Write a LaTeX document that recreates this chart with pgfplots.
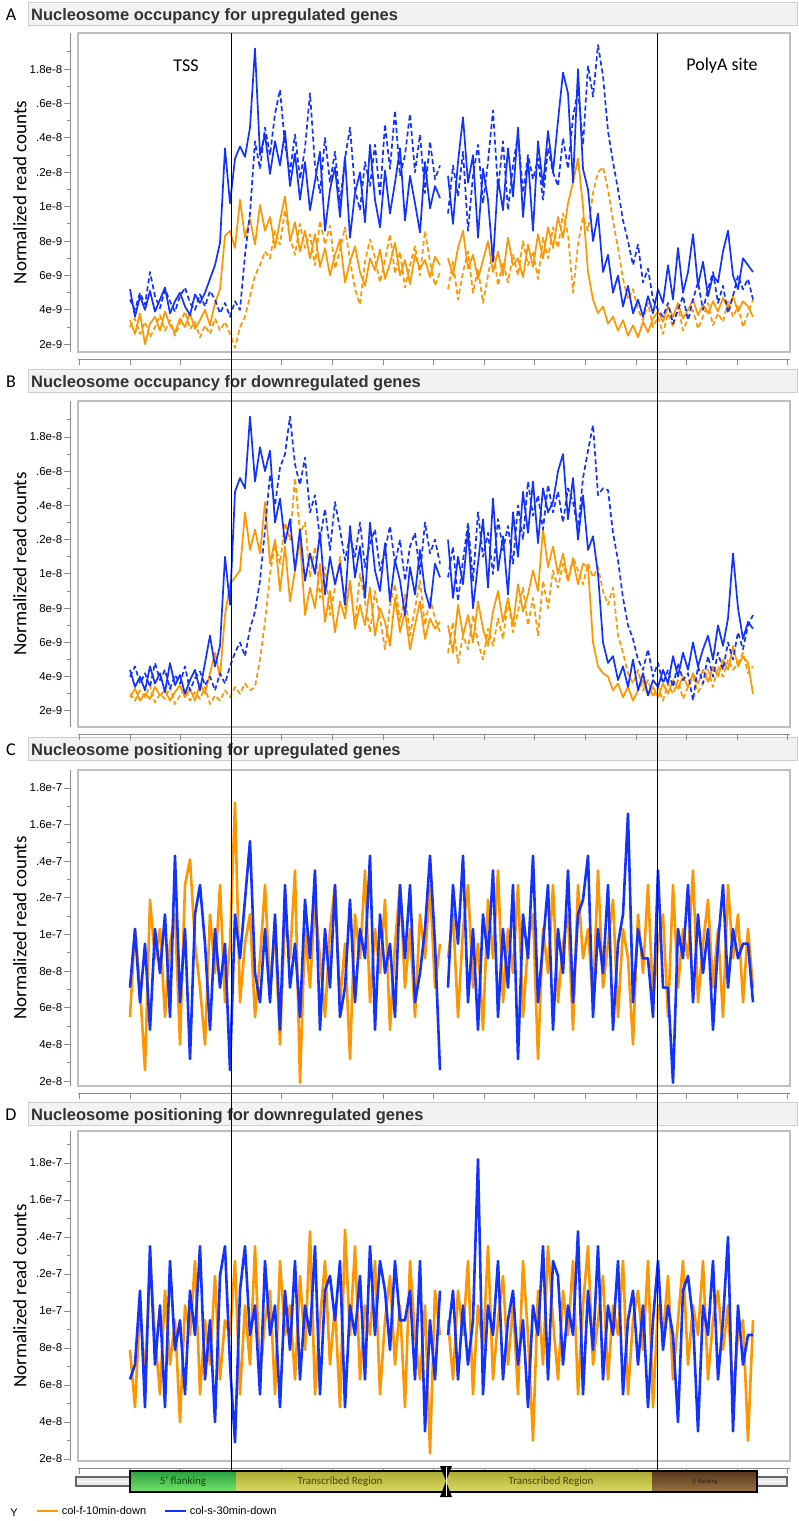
\documentclass[border=0pt]{standalone}
\usepackage{fontspec}
\setmainfont{Liberation Sans}
\newfontfamily\carlito{Carlito}
\usepackage{pgfplots}
\pgfplotsset{compat=1.18}
\usepackage{pgfplotstable}
\definecolor{cor}{RGB}{255,150,0}
\definecolor{cbl}{RGB}{18,50,255}
\definecolor{frm}{RGB}{190,190,190}

\pgfplotstableread{
os od bs bd
3.4 3.0 5.2 4.6
2.6 3.5 3.6 4.0
3.8 2.6 4.8 5.0
2.0 3.3 4.0 4.3
3.2 2.4 5.1 6.2
3.6 3.0 3.9 4.8
2.8 3.7 4.6 4.1
3.9 2.8 5.3 5.2
3.1 3.4 3.8 4.5
2.7 2.5 4.5 3.9
3.5 3.2 5.0 4.8
3.0 3.9 4.2 5.3
3.8 2.9 3.7 4.4
2.9 3.3 4.9 4.0
3.4 2.4 4.4 4.9
4.0 3.1 5.0 4.2
3.1 2.6 5.8 5.1
4.4 3.5 6.6 4.6
5.2 2.8 7.9 3.8
8.3 3.3 13.4 4.4
8.6 2.6 10.2 3.6
7.6 1.8 12.8 4.5
10.4 3.0 13.5 4.0
8.2 3.6 12.9 7.2
9.3 4.8 14.6 9.6
7.8 6.0 19.2 13.8
10.1 6.6 13.0 12.2
8.6 7.4 14.2 14.6
9.4 7.0 11.9 13.0
7.6 8.6 13.8 15.4
9.2 7.8 12.4 16.8
10.6 9.8 14.4 13.6
8.0 8.2 11.2 12.0
9.1 7.2 13.1 14.2
7.4 9.0 10.4 11.6
8.6 7.6 12.6 13.4
7.0 8.4 9.8 16.6
8.4 6.6 11.5 12.4
6.5 9.2 13.2 10.8
7.6 7.8 8.6 14.0
6.0 8.9 11.0 11.4
7.2 6.4 12.3 13.2
8.1 7.5 9.4 10.2
5.6 8.8 12.9 12.8
6.8 6.9 8.2 14.6
7.7 5.2 10.8 11.0
6.2 4.3 12.0 9.8
5.4 6.8 9.1 12.6
7.0 8.1 13.6 11.2
6.3 7.0 10.4 13.6
7.5 5.6 8.8 10.6
5.8 6.9 12.1 14.8
6.7 8.4 9.6 12.2
7.9 6.1 11.4 15.6
6.0 7.4 13.4 11.8
6.9 5.3 9.2 13.0
5.5 6.6 11.8 15.4
7.2 7.7 10.2 12.0
6.4 6.0 8.5 14.2
6.9 8.6 12.6 10.8
5.9 6.8 9.9 13.8
7.1 5.4 11.2 11.6
6.6 6.2 10.5 12.4
}\tAL

\pgfplotstableread{
os od bs bd
7.0 5.2 11.8 9.6
6.0 6.8 9.0 12.4
7.6 4.6 12.6 10.6
8.6 6.2 15.2 13.2
6.4 7.4 11.4 8.6
7.2 5.0 13.0 11.8
5.8 6.4 8.2 13.6
6.9 4.4 12.2 10.2
8.0 6.0 10.4 12.6
6.2 7.6 6.8 15.6
7.4 5.4 11.6 11.0
6.0 6.8 9.8 13.8
8.2 5.6 13.4 9.8
6.6 7.2 10.6 12.4
7.0 6.0 14.6 14.2
5.9 8.0 9.4 10.8
7.8 6.6 12.8 13.0
6.5 7.4 8.6 11.6
8.4 5.8 13.8 12.8
7.0 8.2 11.2 10.4
8.8 7.0 14.4 13.4
7.6 8.8 12.0 12.0
9.4 7.6 15.0 11.2
8.2 9.6 17.8 14.0
10.2 8.4 16.6 12.2
11.4 5.0 11.4 15.2
12.8 7.8 18.0 16.8
10.0 9.4 12.2 13.6
6.2 8.6 11.0 18.2
4.6 10.8 8.0 16.4
3.8 12.0 9.6 19.4
4.2 12.3 6.2 17.6
3.2 11.0 7.2 14.4
3.6 9.2 5.0 12.6
2.8 7.6 6.0 11.0
3.4 5.8 4.2 9.2
2.5 4.6 5.4 8.0
3.1 5.2 3.8 6.6
2.4 4.0 4.6 7.8
3.3 3.4 3.6 5.6
2.7 4.4 4.8 6.4
3.5 3.0 3.8 4.6
3.9 3.6 5.2 4.0
3.3 2.6 4.4 3.6
4.2 3.8 6.6 4.4
3.6 3.0 4.6 3.2
4.4 4.2 7.6 4.0
3.5 2.8 5.0 4.8
4.0 3.5 6.2 3.4
4.6 4.0 8.4 4.6
3.7 2.9 5.4 5.6
4.3 3.6 6.8 4.0
3.8 4.4 4.8 5.2
4.5 3.1 6.0 6.2
3.9 3.8 5.6 4.4
4.7 3.3 7.4 5.4
4.1 4.5 8.6 3.8
4.8 3.6 6.0 4.8
3.9 4.2 5.2 6.0
4.5 3.0 7.0 5.2
4.2 3.8 6.6 5.8
3.6 4.6 6.2 4.6
}\tAR

\pgfplotstableread{
os od bs bd
2.8 3.0 4.4 4.0
3.3 2.6 3.4 4.6
2.6 3.2 4.0 3.6
3.0 2.8 3.2 4.2
2.7 3.5 4.6 3.4
3.4 2.5 3.6 4.8
2.9 3.0 4.2 3.8
3.2 2.7 3.1 4.4
2.6 3.4 4.8 3.3
3.1 2.4 3.5 4.1
3.5 2.9 4.1 3.6
2.8 3.3 3.0 4.6
3.3 2.6 3.8 3.2
2.6 3.1 4.4 3.9
3.6 2.7 3.2 4.3
3.0 3.4 4.8 3.5
4.2 2.4 6.4 4.0
5.4 2.9 4.6 3.2
4.0 2.6 5.8 4.2
7.6 3.2 11.0 3.6
9.4 2.8 8.2 4.6
9.8 3.4 14.8 5.4
10.2 3.0 15.6 6.0
13.6 3.6 15.0 5.2
11.4 3.2 19.2 6.8
12.6 3.4 15.4 7.8
11.2 5.0 17.4 9.6
14.2 7.2 16.0 12.6
10.6 10.0 17.2 15.8
12.0 11.8 13.0 14.0
9.0 10.6 14.4 16.2
11.6 13.0 11.8 17.0
8.4 12.0 13.2 19.2
10.2 15.6 10.2 16.4
12.0 12.4 12.6 15.2
7.6 13.0 9.6 16.8
9.2 9.8 11.2 13.6
8.0 11.6 10.0 14.6
10.6 8.6 12.4 12.0
7.2 10.4 8.8 13.8
9.0 7.6 11.0 11.4
6.6 9.2 9.4 14.2
8.4 11.0 10.6 12.6
7.4 8.0 8.2 10.8
9.6 9.6 12.8 12.2
6.8 7.0 9.8 11.0
8.2 10.0 11.6 13.0
7.0 8.4 8.6 10.4
9.2 6.6 13.0 11.8
6.4 9.0 10.2 12.6
8.0 7.4 9.0 10.2
7.2 5.6 11.8 11.4
5.8 8.2 8.4 12.8
8.6 9.4 10.8 10.6
6.6 7.2 9.6 12.0
7.8 8.8 7.6 9.6
5.6 6.4 10.4 11.6
7.0 8.0 8.8 12.4
8.4 9.6 11.4 10.0
6.2 7.0 9.0 13.0
7.4 8.6 8.0 11.2
6.8 7.4 10.6 12.0
7.2 6.6 9.8 10.6
}\tBL

\pgfplotstableread{
os od bs bd
7.0 5.4 12.0 9.8
5.4 7.2 8.6 11.6
8.2 4.8 11.0 8.4
6.4 6.4 9.4 10.8
7.6 5.6 12.6 13.0
6.0 7.6 8.0 9.6
8.4 6.0 10.6 13.6
6.8 5.0 13.2 11.0
5.8 6.8 9.2 12.4
7.8 5.8 14.4 10.0
9.0 7.4 10.2 13.2
7.2 6.2 12.2 11.4
8.6 8.4 8.8 12.8
7.0 6.6 13.6 10.6
9.4 7.8 11.0 14.0
7.8 9.2 14.8 12.0
8.8 7.0 12.4 15.4
10.2 8.6 15.4 13.4
9.0 6.4 11.8 14.6
12.6 9.6 15.0 12.6
10.4 8.0 13.6 15.2
11.6 10.2 14.2 13.6
10.0 9.2 16.0 14.8
11.2 10.6 17.0 13.0
9.6 9.6 13.2 15.0
10.8 11.0 15.6 14.2
9.4 10.2 12.0 12.6
10.6 9.4 14.6 15.6
10.4 10.6 11.4 17.2
6.0 9.8 12.2 18.7
4.6 10.4 10.0 14.6
4.2 9.0 6.0 15.0
4.0 8.2 4.8 14.9
3.2 9.2 5.2 12.4
3.6 6.4 3.8 10.8
2.8 5.4 4.6 8.6
3.4 4.2 3.4 7.0
2.6 3.6 5.0 6.2
3.2 4.4 3.2 5.0
3.8 3.2 4.2 4.4
2.9 3.8 2.9 5.6
3.4 2.8 3.8 4.0
2.8 3.4 3.4 4.8
3.6 2.6 4.4 3.6
3.0 3.6 3.6 4.4
3.8 3.0 5.2 3.4
3.3 3.8 4.0 4.8
4.0 2.7 5.4 3.8
3.4 3.4 4.4 4.2
4.2 4.0 6.0 2.6
3.6 3.1 4.6 4.6
4.4 3.6 5.6 3.6
3.7 4.4 6.4 5.2
4.6 3.4 5.0 4.0
4.0 4.6 7.0 5.4
5.0 4.0 5.8 4.4
4.4 5.0 7.4 6.0
5.8 4.4 11.2 5.0
4.6 4.8 8.0 6.6
5.2 5.4 6.2 5.6
4.8 4.2 7.2 7.0
3.0 4.6 6.8 7.6
}\tBR

\pgfplotstableread{
o b
5.5 7.1
10.3 10.3
7.1 6.3
2.6 9.5
11.9 4.8
8.7 10.3
10.3 7.9
5.5 11.1
9.5 5.5
11.1 14.3
4.0 6.3
12.7 10.3
14.1 3.2
9.5 11.1
7.1 12.7
4.0 9.5
11.1 4.8
7.9 10.3
12.7 7.1
6.3 9.5
9.5 2.6
17.2 11.1
6.3 8.7
9.5 11.9
11.1 15.1
5.5 7.9
8.7 6.3
12.7 10.3
7.1 6.3
10.3 11.1
4.0 4.8
11.1 12.7
8.7 7.1
13.5 9.5
1.9 5.5
10.3 11.9
7.1 8.7
11.9 13.5
8.7 4.8
5.5 10.3
10.3 7.1
12.7 12.7
6.3 5.5
9.5 7.1
3.2 11.9
11.1 6.3
8.7 10.3
13.5 8.7
6.3 14.3
10.3 4.8
7.9 11.1
11.9 7.9
4.8 9.5
9.5 5.5
12.7 12.7
7.1 8.7
10.3 12.7
5.5 6.3
11.1 7.9
8.7 10.3
12.7 14.3
7.1 9.5
9.5 2.6
}\tCL

\pgfplotstableread{
o b
8.7 7.1
11.1 12.7
5.5 9.5
10.3 14.3
12.7 6.3
7.1 10.3
9.5 4.8
4.8 11.1
11.9 8.7
8.7 13.5
13.5 5.5
6.3 10.3
10.3 7.1
7.9 12.7
12.7 3.2
5.5 11.1
9.5 8.7
11.1 14.3
3.2 6.3
10.3 9.5
7.9 12.7
12.7 4.8
6.3 10.3
9.5 7.9
11.1 13.5
4.8 6.3
12.7 11.1
8.7 11.9
10.3 14.3
6.3 5.5
13.5 10.3
7.1 7.9
9.5 12.7
11.9 4.8
5.5 9.5
10.3 11.1
8.7 16.6
4.0 6.3
11.1 10.3
7.9 8.7
12.7 8.7
6.3 5.5
9.5 13.5
11.1 7.1
5.5 7.1
12.7 1.9
7.1 10.3
10.3 8.7
8.7 12.7
13.5 6.3
6.3 11.1
9.5 7.9
11.9 10.3
7.1 4.8
10.3 9.5
5.5 12.7
12.7 7.1
8.7 10.3
11.1 8.7
6.3 9.5
10.3 9.5
7.1 6.3
}\tCR

\pgfplotstableread{
o b
7.9 6.3
4.8 7.1
10.3 11.1
6.3 4.8
12.7 13.5
8.7 7.1
5.5 10.3
11.1 4.8
7.1 12.7
9.5 7.9
4.0 9.5
10.3 5.5
8.7 11.1
12.7 8.7
5.5 13.5
9.5 6.3
7.1 9.5
11.9 4.0
6.3 11.9
9.5 13.5
8.7 7.1
12.7 2.9
5.5 11.1
10.3 13.5
7.1 8.7
13.5 10.3
6.3 5.5
9.5 12.7
11.1 8.7
5.5 10.3
12.7 4.8
8.7 11.1
10.3 7.9
6.3 12.7
11.9 6.3
7.9 10.3
14.3 8.7
5.5 13.5
9.5 5.5
12.7 11.1
7.1 11.9
10.3 9.5
4.8 12.7
14.4 4.8
8.7 10.3
13.5 8.7
6.3 11.9
10.3 6.3
8.7 13.5
12.7 8.7
5.5 12.7
9.5 11.1
11.9 7.9
7.1 12.7
10.3 9.5
4.8 9.5
12.7 11.1
8.7 6.3
6.3 12.7
10.3 3.5
2.3 9.5
11.1 6.3
8.7 11.1
}\tDL

\pgfplotstableread{
o b
9.5 8.7
6.3 11.1
11.1 6.3
8.7 10.3
12.7 7.1
5.5 9.5
10.3 18.2
7.9 5.5
13.5 10.3
6.3 8.7
9.5 12.7
11.9 6.3
7.1 9.5
10.3 11.1
5.5 7.1
12.7 9.5
8.7 4.8
3.0 10.3
11.1 8.7
7.1 13.5
13.5 6.3
9.5 12.7
6.3 11.9
11.1 7.1
8.7 10.3
12.7 8.7
5.5 14.3
10.3 5.5
13.5 11.1
7.1 7.9
9.5 13.5
11.9 6.3
6.3 10.3
10.3 8.7
8.7 12.7
12.7 5.5
5.5 9.5
9.5 11.1
11.1 7.1
7.9 10.3
12.7 4.8
4.8 9.5
10.3 12.7
8.7 7.9
11.9 10.3
6.3 8.7
9.5 4.0
12.7 11.1
7.1 11.9
10.3 9.5
8.7 3.5
12.7 10.3
6.3 8.7
9.5 12.7
11.1 6.3
7.9 9.5
10.3 14.0
5.5 3.5
8.7 10.3
9.5 7.1
3.0 8.7
9.5 8.7
}\tDR

\pgfplotsset{
 panel/.style={
  scale only axis, width=712pt, height=319pt,
  xmin=78, xmax=790,
  axis x line*=bottom, axis y line*=left,
  axis x line shift=7pt, axis y line shift=8pt,
  axis line style={draw=black!45, line width=0.9pt},
  tick style={draw=black!45, line width=0.9pt},
  xtick={79.5,130.1,...,790}, xticklabels={},
  tick align=outside, major tick length=6pt, minor tick length=3.5pt,
  ytick={2,4,...,18}, minor ytick={3,5,...,19},
  yticklabel style={font=\fontsize{11.5}{13}\selectfont, inner sep=1.5pt, text=black},
  ylabel={Normalized read counts},
  every axis y label/.style={at={(axis description cs:-0.0815,0.5)}, rotate=90, anchor=center, font=\carlito\fontsize{19}{22}\selectfont},
  clip mode=individual,
 },
 occ/.style={panel, ymin=1.55, ymax=20.1, yticklabels={2e-9,4e-9,6e-9,8e-9,1e-8,.2e-8,.4e-8,.6e-8,1.8e-8}},
 pos/.style={panel, ymin=1.73, ymax=19.15, yticklabels={2e-8,4e-8,6e-8,8e-8,1e-7,.2e-7,.4e-7,1.6e-7,1.8e-7}},
 os/.style={cor, line width=1.7pt, line join=round},
 od/.style={cor, line width=1.7pt, line join=round, dash pattern=on 5pt off 3pt},
 bs/.style={cbl, line width=1.7pt, line join=round},
 bd/.style={cbl, line width=1.7pt, line join=round, dash pattern=on 5pt off 3pt},
 po/.style={cor, line width=2.6pt, line join=round},
 pb/.style={cbl, line width=2.6pt, line join=round},
}

\newcommand{\frameit}{\draw[frm, line width=1.2pt] (rel axis cs:0,0) rectangle (rel axis cs:1,1);}

\begin{document}
\begin{tikzpicture}
\useasboundingbox (0pt,0pt) rectangle (799pt,-1521pt);

% titles
\begin{scope}[x=1pt,y=-1pt]
\foreach \T/\L/\txt in {0/A/Nucleosome occupancy for upregulated genes,367/B/Nucleosome occupancy for downregulated genes,735/C/Nucleosome positioning for upregulated genes,1100/D/Nucleosome positioning for downregulated genes}{
  \draw[fill=black!5, draw=black!20, line width=0.8pt] (28,\T+2) rectangle (797,\T+25);
  \node[anchor=base west, inner sep=0pt, font=\bfseries\fontsize{16.5}{19}\selectfont, text=black!80] at (31,\T+20) {\txt};
  \node[anchor=base, inner sep=0pt, font=\carlito\fontsize{18}{20}\selectfont] at (11,\T+20) {\L};
}
\end{scope}

% Panel A
\begin{axis}[occ, at={(78pt,-352pt)}, anchor=south west]
\addplot[od] table[x expr=130+5*\coordindex, y=od]{\tAL};
\addplot[od] table[x expr=448+5*\coordindex, y=od]{\tAR};
\addplot[os] table[x expr=130+5*\coordindex, y=os]{\tAL};
\addplot[os] table[x expr=448+5*\coordindex, y=os]{\tAR};
\addplot[bd] table[x expr=130+5*\coordindex, y=bd]{\tAL};
\addplot[bd] table[x expr=448+5*\coordindex, y=bd]{\tAR};
\addplot[bs] table[x expr=130+5*\coordindex, y=bs]{\tAL};
\addplot[bs] table[x expr=448+5*\coordindex, y=bs]{\tAR};
\frameit
\end{axis}

% Panel B
\begin{axis}[occ, at={(78pt,-727pt)}, anchor=south west, height=326pt, ymin=1.06, ymax=20.1]
\addplot[od] table[x expr=130+5*\coordindex, y=od]{\tBL};
\addplot[od] table[x expr=448+5*\coordindex, y=od]{\tBR};
\addplot[os] table[x expr=130+5*\coordindex, y=os]{\tBL};
\addplot[os] table[x expr=448+5*\coordindex, y=os]{\tBR};
\addplot[bd] table[x expr=130+5*\coordindex, y=bd]{\tBL};
\addplot[bd] table[x expr=448+5*\coordindex, y=bd]{\tBR};
\addplot[bs] table[x expr=130+5*\coordindex, y=bs]{\tBL};
\addplot[bs] table[x expr=448+5*\coordindex, y=bs]{\tBR};
\frameit
\end{axis}

% Panel C
\begin{axis}[pos, at={(78pt,-1086pt)}, anchor=south west, height=316pt, ymin=1.73, ymax=18.98]
\addplot[po] table[x expr=130+5*\coordindex, y=o]{\tCL};
\addplot[po] table[x expr=448+5*\coordindex, y=o]{\tCR};
\addplot[pb] table[x expr=130+5*\coordindex, y=b]{\tCL};
\addplot[pb] table[x expr=448+5*\coordindex, y=b]{\tCR};
\frameit
\end{axis}

% Panel D
\begin{axis}[pos, at={(78pt,-1461pt)}, anchor=south west, height=330pt, ymin=1.89, ymax=19.73,
  legend style={at={(axis description cs:-0.059,-0.152)}, anchor=west, draw=none, fill=none,
    legend columns=2, font=\fontsize{11}{13}\selectfont, inner sep=0pt,
    /tikz/every even column/.append style={column sep=16pt}},
  legend image code/.code={\draw[#1] (0pt,0pt) -- (21pt,0pt);},
  legend cell align=left]
\addplot[po] table[x expr=130+5*\coordindex, y=o]{\tDL};
\addlegendentry{col-f-10min-down}
\addplot[pb] table[x expr=130+5*\coordindex, y=b]{\tDL};
\addlegendentry{col-s-30min-down}
\addplot[po, forget plot] table[x expr=448+5*\coordindex, y=o]{\tDR};
\addplot[pb, forget plot] table[x expr=448+5*\coordindex, y=b]{\tDR};
\frameit
\end{axis}

\begin{scope}[x=1pt,y=-1pt]
% annotations
\node[font=\carlito\fontsize{18}{20}\selectfont] at (186,66) {TSS};
\node[font=\carlito\fontsize{18}{20}\selectfont] at (722,66) {PolyA site};
% gene structure bar
\draw[draw=black!60, line width=1.5pt, fill=black!8] (76,1477) rectangle (787,1486);
\draw[white, line width=1.5pt] (77,1481.5) -- (786,1481.5);
\shade[top color={rgb,255:red,40;green,160;blue,60}, bottom color={rgb,255:red,120;green,230;blue,110}] (130,1471) rectangle (236,1492);
\shade[top color={rgb,255:red,170;green,170;blue,50}, middle color={rgb,255:red,245;green,245;blue,130}, bottom color={rgb,255:red,220;green,220;blue,100}] (236,1471) rectangle (652,1492);
\shade[top color={rgb,255:red,85;green,55;blue,25}, bottom color={rgb,255:red,155;green,115;blue,70}] (652,1471) rectangle (757,1492);
\draw[black, line width=1.5pt] (130,1471) rectangle (757,1492);
\fill[black] (440,1466) -- (446,1481) -- (440,1497) -- (452,1497) -- (446,1481) -- (452,1466) -- cycle;
\draw[white, line width=0.8pt] (446,1467) -- (446,1496);
\node[font=\carlito\fontsize{11}{12}\selectfont, text={rgb,255:red,20;green,70;blue,20}] at (183,1482) {5\textquoteright\ flanking};
\node[font=\carlito\fontsize{11}{12}\selectfont, text={rgb,255:red,70;green,70;blue,20}] at (340,1482) {Transcribed Region};
\node[font=\carlito\fontsize{11}{12}\selectfont, text={rgb,255:red,70;green,70;blue,20}] at (551,1482) {Transcribed Region};
\node[font=\carlito\fontsize{6}{7}\selectfont, text={rgb,255:red,40;green,25;blue,10}] at (705,1482) {3\textquoteright\ flanking};
% legend prefix
\node[font=\fontsize{11}{13}\selectfont, anchor=base] at (14,1516) {Y};
% TSS and PolyA lines
\draw[black, line width=1pt] (231,33) -- (231,1471);
\draw[black, line width=1pt] (657,33) -- (657,1471);
\end{scope}
\end{tikzpicture}
\end{document}
